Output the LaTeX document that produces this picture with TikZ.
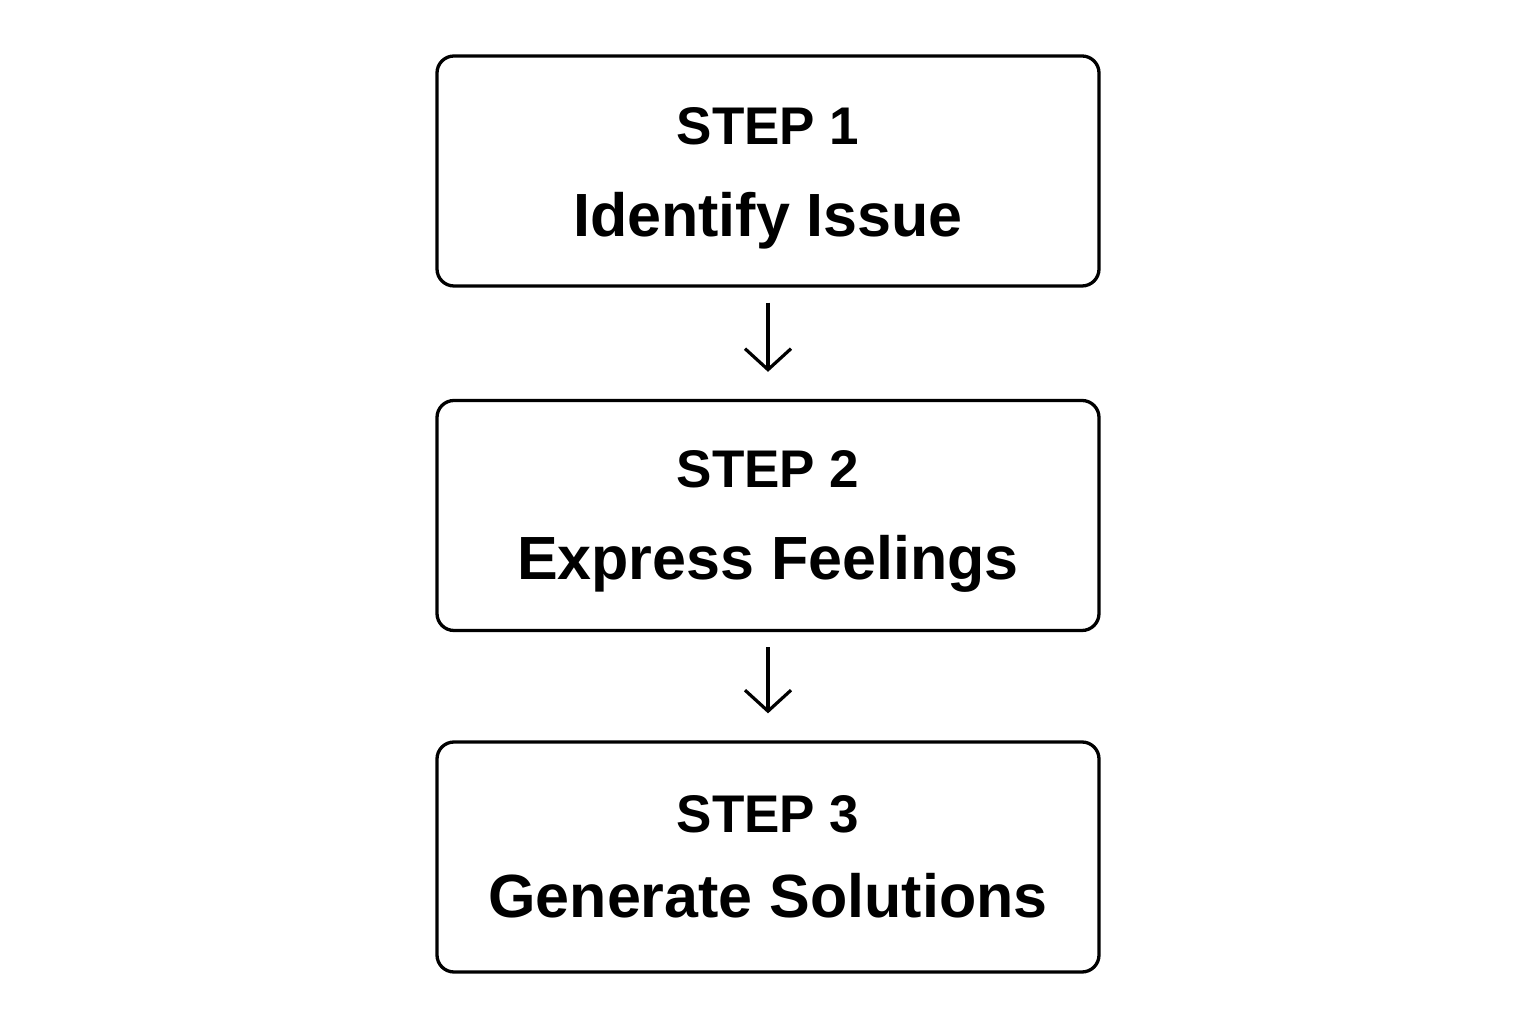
\documentclass[tikz,border=0pt]{standalone}
\usepackage{fontspec}
\setmainfont{Liberation Sans}
\usetikzlibrary{arrows.meta}
\begin{document}
\begin{tikzpicture}[x=1pt,y=1pt,
  stepbox/.style={draw=black,line width=3.3pt,rounded corners=17pt,minimum width=662pt,minimum height=230pt,inner sep=0pt},
  steplabel/.style={anchor=base,font=\fontsize{53}{56}\selectfont\bfseries,inner sep=0pt},
  steptitle/.style={anchor=base,font=\fontsize{61}{64}\selectfont\bfseries,inner sep=0pt},
  flow/.style={line width=3.2pt,-{Straight Barb[length=21pt,width=46pt,line width=3.2pt]}}]
\fill[white] (0,0) rectangle (1536,1024);
\useasboundingbox (0,0) rectangle (1536,1024);
\node[stepbox] (b1) at (768,853) {};
\node[stepbox] (b2) at (768,508.5) {};
\node[stepbox] (b3) at (768,167) {};
\node[steplabel] (l1) at (768,1024-145) {STEP 1};
\node[steptitle] (t1) at (768,1024-237) {Identify Issue};
\node[steplabel] (l2) at (768,1024-488) {STEP 2};
\node[steptitle] (t2) at (768,1024-580) {Express Feelings};
\node[steplabel] (l3) at (768,1024-833) {STEP 3};
\node[steptitle] (t3) at (768,1024-918) {Generate Solutions};
\draw[flow,shorten <=15pt,shorten >=27pt] (b1.south) -- (b2.north);
\draw[flow,shorten <=15pt,shorten >=27pt] (b2.south) -- (b3.north);
\end{tikzpicture}
\end{document}
